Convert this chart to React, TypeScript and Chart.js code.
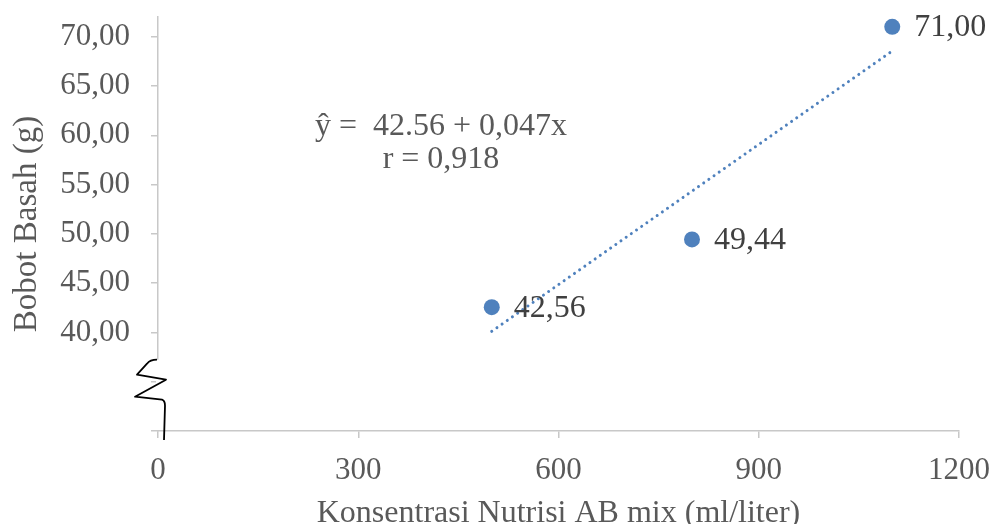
import { useEffect, useRef } from 'react';
import { Chart, registerables } from 'chart.js';

Chart.register(...registerables);

// ---- data ----
const concentrations = [500, 800, 1100];
const freshWeight = [42.56, 49.44, 71.0];
const dataLabels = ['42,56', '49,44', '71,00'];
const xTickValues = [0, 300, 600, 900, 1200];
const equationLines = ['ŷ =  42.56 + 0,047x', 'r = 0,918'];
const equationAnchor = { x: 424, y: 60 };
const xTitle = 'Konsentrasi Nutrisi AB mix (ml/liter)';
const yTitle = 'Bobot Basah (g)';
const yBreakValue = 35;
const yFirstLabel = 40;

const FONT = "'Liberation Serif', 'Times New Roman', serif";
const BLUE = '#4F81BD';
const AXIS = '#C8C8C8';
const TICK_TEXT = '#595959';
const LABEL_TEXT = '#404040';

// least-squares trendline from the data
function trend() {
  const n = concentrations.length;
  const mx = concentrations.reduce((a, b) => a + b, 0) / n;
  const my = freshWeight.reduce((a, b) => a + b, 0) / n;
  let sxy = 0, sxx = 0;
  for (let i = 0; i < n; i++) {
    sxy += (concentrations[i] - mx) * (freshWeight[i] - my);
    sxx += (concentrations[i] - mx) ** 2;
  }
  const b = sxy / sxx;
  const a = my - b * mx;
  const x0 = Math.min(...concentrations);
  const x1 = Math.max(...concentrations);
  return [{ x: x0, y: a + b * x0 }, { x: x1, y: a + b * x1 }];
}

const decorPlugin = {
  id: 'decor',
  afterDatasetsDraw(chart: any) {
    const ctx = chart.ctx;
    const xs = chart.scales.x;
    const ys = chart.scales.y;
    const area = chart.chartArea;
    ctx.save();
    // data labels
    ctx.font = `32px ${FONT}`;
    ctx.fillStyle = LABEL_TEXT;
    ctx.textAlign = 'left';
    ctx.textBaseline = 'middle';
    concentrations.forEach((c, i) => {
      const px = xs.getPixelForValue(c);
      const py = ys.getPixelForValue(freshWeight[i]);
      ctx.fillText(dataLabels[i], px + 22, py + 1);
    });
    // equation
    ctx.font = `32px ${FONT}`;
    ctx.fillStyle = TICK_TEXT;
    ctx.textAlign = 'center';
    ctx.textBaseline = 'alphabetic';
    const ex = xs.getPixelForValue(equationAnchor.x);
    const ey = ys.getPixelForValue(equationAnchor.y);
    equationLines.forEach((t, i) => ctx.fillText(t, ex, ey + i * 33));
    // x axis title
    ctx.font = `32px ${FONT}`;
    ctx.fillStyle = TICK_TEXT;
    ctx.textAlign = 'center';
    ctx.textBaseline = 'alphabetic';
    ctx.fillText(xTitle, (area.left + area.right) / 2, chart.height - 2);
    // axis break
    const x0 = xs.getPixelForValue(0);
    const yc = ys.getPixelForValue(yBreakValue);
    const bottom = area.bottom;
    ctx.fillStyle = '#ffffff';
    ctx.fillRect(x0 - 2, yc - 22, 4, bottom - (yc - 22) - 1);
    ctx.strokeStyle = '#000000';
    ctx.lineWidth = 1.8;
    ctx.lineJoin = 'round';
    ctx.beginPath();
    ctx.moveTo(x0 - 1, yc - 22);
    ctx.quadraticCurveTo(x0 - 8, yc - 22, x0 - 11, yc - 18);
    ctx.lineTo(x0 - 21, yc - 7);
    ctx.lineTo(x0 + 8, yc - 2);
    ctx.lineTo(x0 - 23, yc + 15);
    ctx.lineTo(x0 + 4, yc + 18);
    ctx.quadraticCurveTo(x0 + 7, yc + 19, x0 + 7, yc + 24);
    ctx.lineTo(x0 + 6, bottom + 9);
    ctx.stroke();
    ctx.restore();
  },
};

export default function App() {
  const ref = useRef<HTMLCanvasElement>(null);
  useEffect(() => {
    if (!ref.current) return;
    const chart = new Chart(ref.current, {
      type: 'scatter',
      data: {
        datasets: [
          {
            type: 'line',
            data: trend(),
            borderColor: BLUE,
            borderWidth: 3,
            borderDash: [0.01, 6.3],
            borderCapStyle: 'round',
            pointRadius: 0,
            fill: false,
          } as any,
          {
            data: concentrations.map((x, i) => ({ x, y: freshWeight[i] })),
            backgroundColor: BLUE,
            borderColor: BLUE,
            pointRadius: 8,
            pointBorderWidth: 0,
          },
        ],
      },
      options: {
        animation: false,
        responsive: true,
        maintainAspectRatio: false,
        layout: { padding: { top: 17, right: 34, left: 0, bottom: 0 } },
        plugins: { legend: { display: false }, tooltip: { enabled: false } },
        scales: {
          x: {
            type: 'linear',
            min: xTickValues[0],
            max: xTickValues[xTickValues.length - 1],
            afterBuildTicks: (s: any) => {
              s.ticks = xTickValues.map((v) => ({ value: v }));
            },
            afterFit: (s: any) => {
              s.height = 93;
              s.paddingLeft = 0;
              s.paddingRight = 0;
            },
            ticks: {
              font: { family: FONT, size: 31 },
              color: TICK_TEXT,
              padding: 14,
              maxRotation: 0,
              callback: (v: any) => String(v),
            },
            grid: { drawOnChartArea: false, drawTicks: true, tickLength: 7, color: AXIS, lineWidth: 1.5 },
            border: { display: true, color: AXIS, width: 1.5 },
            title: { display: false },
          },
          y: {
            type: 'linear',
            min: 30,
            max: 72,
            afterFit: (s: any) => {
              s.width = 158;
              s.paddingTop = 0;
              s.paddingBottom = 0;
            },
            ticks: {
              stepSize: 5,
              includeBounds: false,
              font: { family: FONT, size: 31 },
              color: TICK_TEXT,
              padding: 21,
              callback: (v: any) => (Number(v) >= yFirstLabel ? Number(v).toFixed(2).replace('.', ',') : ''),
            },
            grid: { drawOnChartArea: false, drawTicks: true, tickLength: 7, color: AXIS, lineWidth: 1.5 },
            border: { display: true, color: AXIS, width: 1.5 },
            title: {
              display: true,
              text: yTitle,
              font: { family: FONT, size: 33 },
              color: TICK_TEXT,
              padding: { top: 8, bottom: 0 },
            },
          },
        },
      },
      plugins: [decorPlugin],
    });
    return () => chart.destroy();
  }, []);
  return (
    <div style={{ position: 'fixed', left: 0, top: 0, width: 993, height: 524, background: '#fff' }}>
      <canvas ref={ref} />
    </div>
  );
}
